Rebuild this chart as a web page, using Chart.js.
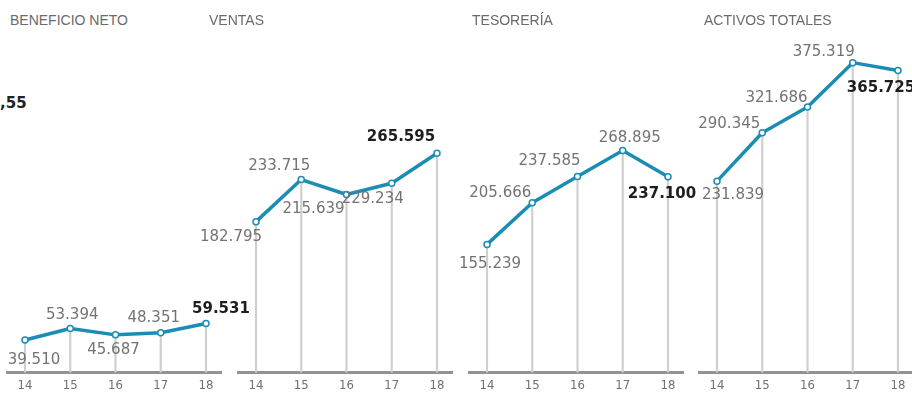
<!DOCTYPE html>
<html><head><meta charset="utf-8">
<script src="https://cdn.jsdelivr.net/npm/chart.js@4/dist/chart.umd.min.js"></script>
<style>
html,body{margin:0;padding:0;background:#fff;width:912px;height:393px;overflow:hidden;position:relative}
canvas{position:absolute;top:0}
.t{position:absolute;top:12px;font:14px 'Liberation Sans',sans-serif;color:#6a6a6a;line-height:16px;white-space:nowrap}
.cut{position:absolute;left:0;top:94px;font:bold 15px 'DejaVu Sans',sans-serif;color:#222;line-height:18px}
</style></head><body>
<div id="root"></div>
<script>
// ---- data ----
const years = ['14', '15', '16', '17', '18'];
const beneficioNeto = [39510, 53394, 45687, 48351, 59531];
const ventas = [182795, 233715, 215639, 229234, 265595];
const tesoreria = [155239, 205666, 237585, 268895, 237100];
const activosTotales = [231839, 290345, 321686, 375319, 365725];
const titles = ['BENEFICIO NETO', 'VENTAS', 'TESORERÍA', 'ACTIVOS TOTALES'];
const cutLabel = ',55';

// ---- layout / style ----
const Y_MAX = 410000;
const PAD_SIDE = 50;
const panels = [
  { title: titles[0], values: beneficioNeto, canvasLeft: -43, titleLeft: 10,
    offsets: [[9, 20], [2, -13], [-2, 15], [-7, -15], [15, -14]] },
  { title: titles[1], values: ventas, canvasLeft: 188, titleLeft: 209,
    offsets: [[-25, 15], [-22, -13], [-33, 15], [-19, 16], [-36, -16]] },
  { title: titles[2], values: tesoreria, canvasLeft: 419, titleLeft: 472,
    offsets: [[3, 20], [-32, -10], [-28, -15], [7, -12], [-6, 17]] },
  { title: titles[3], values: activosTotales, canvasLeft: 649, titleLeft: 704,
    offsets: [[16, 14], [-33, -9], [-31, -9], [-29, -11], [-17, 18]] }
];
const LINE_COLOR = '#1b8cb4';
const xVals = years.map(Number);

function fmt(v) { return String(v).replace(/\B(?=(\d{3})+(?!\d))/g, '.'); }

const valueLabels = {
  id: 'valueLabels',
  afterDatasetsDraw(chart, args, opts) {
    const meta = chart.getDatasetMeta(1);
    const ctx = chart.ctx;
    ctx.save();
    ctx.textAlign = 'center';
    ctx.textBaseline = 'middle';
    meta.data.forEach((pt, i) => {
      const bold = i === opts.highlight;
      ctx.font = (bold ? 'bold ' : '') + '15px "DejaVu Sans"';
      ctx.fillStyle = bold ? '#1e1e1e' : '#737373';
      const o = opts.offsets[i];
      ctx.fillText(fmt(opts.values[i]), pt.x + o[0], pt.y + o[1]);
    });
    ctx.restore();
  }
};

const root = document.getElementById('root');
const cut = document.createElement('div');
cut.className = 'cut'; cut.textContent = cutLabel; root.appendChild(cut);

panels.forEach(p => {
  const t = document.createElement('div');
  t.className = 't'; t.style.left = p.titleLeft + 'px'; t.textContent = p.title;
  root.appendChild(t);
  const c = document.createElement('canvas');
  c.width = 214 + PAD_SIDE * 2; c.height = 398;
  c.style.left = p.canvasLeft + 'px';
  root.appendChild(c);
  const pts = p.values.map((v, i) => ({ x: xVals[i], y: v }));
  new Chart(c, {
    type: 'line',
    data: {
      datasets: [
        { type: 'bar', data: pts, backgroundColor: '#cfcfcf', barThickness: 1.5, order: 2 },
        { type: 'line', data: pts, borderColor: LINE_COLOR, borderWidth: 3.5, tension: 0,
          borderCapStyle: 'round', borderJoinStyle: 'round',
          pointRadius: 3, pointBackgroundColor: '#fff', pointBorderColor: LINE_COLOR,
          pointBorderWidth: 1.5, order: 1 }
      ]
    },
    options: {
      responsive: false, animation: false, devicePixelRatio: 1,
      layout: { padding: { left: PAD_SIDE, right: PAD_SIDE, top: 34, bottom: 0 } },
      plugins: { legend: { display: false }, tooltip: { enabled: false },
        valueLabels: { offsets: p.offsets, values: p.values, highlight: 4 } },
      scales: {
        x: { type: 'linear', min: 13.602, max: 18.332, offset: false,
          grid: { display: true, drawOnChartArea: false, drawTicks: false },
          border: { display: true, color: '#929292', width: 3 },
          ticks: { stepSize: 1, includeBounds: false, autoSkip: false, padding: 4.9,
            color: '#707070', font: { family: 'DejaVu Sans Condensed', size: 13 },
            callback: v => { const k = xVals.indexOf(v); return k >= 0 ? years[k] : ''; } } },
        y: { display: false, min: 0, max: Y_MAX }
      }
    },
    plugins: [valueLabels]
  });
});
</script>
</body></html>
